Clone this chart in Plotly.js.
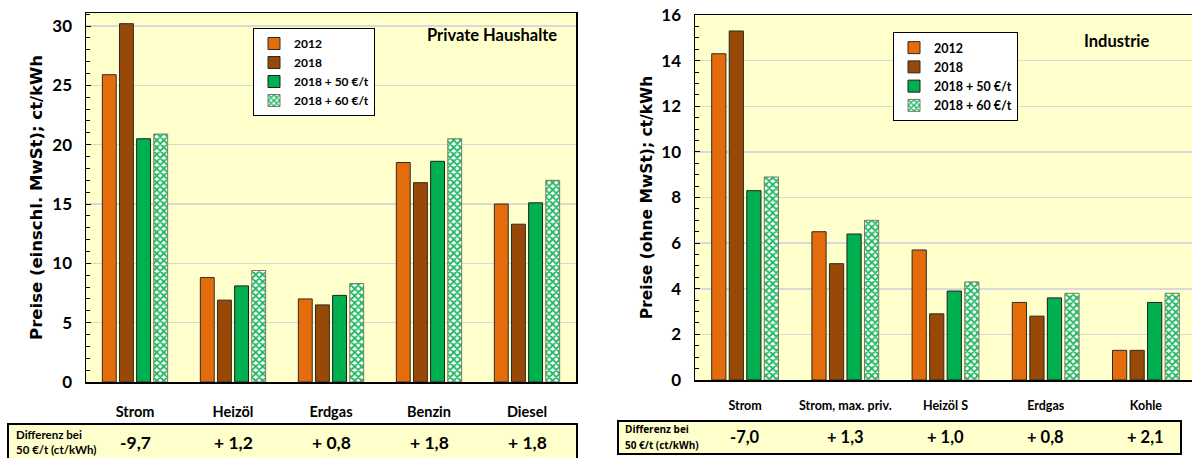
<!DOCTYPE html>
<html>
<head>
<meta charset="utf-8">
<script src="https://cdn.plot.ly/plotly-3.0.1.min.js"></script>
<style>
  html, body { margin: 0; padding: 0; background: #ffffff; }
  #chart { width: 1192px; height: 458px; }
</style>
</head>
<body>
<div id="chart"></div>
<script>
// Series shown in both panels
const seriesNames = ['2012', '2018', '2018 + 50 €/t', '2018 + 60 €/t'];

// Private Haushalte (Preise einschl. MwSt, ct/kWh)
const hhCategories = ['Strom', 'Heizöl', 'Erdgas', 'Benzin', 'Diesel'];
const hh2012 = [25.9, 8.8, 7.0, 18.5, 15.0];
const hh2018 = [30.2, 6.9, 6.5, 16.8, 13.3];
const hh50   = [20.5, 8.1, 7.3, 18.6, 15.1];
const hh60   = [20.9, 9.4, 8.3, 20.5, 17.0];

// Industrie (Preise ohne MwSt, ct/kWh)
const indCategories = ['Strom', 'Strom, max. priv.', 'Heizöl S', 'Erdgas', 'Kohle'];
const ind2012 = [14.3, 6.5, 5.7, 3.4, 1.3];
const ind2018 = [15.3, 5.1, 2.9, 2.8, 1.3];
const ind50   = [8.3, 6.4, 3.9, 3.6, 3.4];
const ind60   = [8.9, 7.0, 4.3, 3.8, 3.8];

const diffLabel = ['Differenz bei', '50 €/t (ct/kWh)'];

const W = 1192, H = 458;
const px = x => x / W;          // pixel column -> paper x
const py = y => 1 - y / H;      // pixel row -> paper y

const LATO = 'Lato, "Open Sans", sans-serif';
const SANS = '"Open Sans", Arial, sans-serif';
const WIDE = '"DejaVu Sans", Verdana, sans-serif';

const styles = [
  { color: '#E46C0A', line: '#2b2b2b' },
  { color: '#984807', line: '#2b2b2b' },
  { color: '#00B050', line: '#1f1f1f' },
  { color: '#00B050', line: '#7a7a6a', pattern: true }
];

function bars(cats, values, i, xa, ya, legendId, prefix) {
  const st = styles[i];
  const marker = { color: st.color, line: { color: st.line, width: 1 } };
  if (st.pattern) {
    marker.pattern = { shape: 'x', fgcolor: '#1fb862', bgcolor: '#ffffff', size: 5, solidity: 0.6 };
  }
  return {
    type: 'bar', x: cats, y: values, name: seriesNames[i],
    xaxis: xa, yaxis: ya, legend: legendId, legendgroup: prefix + i,
    marker: marker, hoverinfo: 'x+y+name'
  };
}

const hhSeries = [hh2012, hh2018, hh50, hh60];
const indSeries = [ind2012, ind2018, ind50, ind60];
const data = [];
hhSeries.forEach((v, i) => data.push(bars(hhCategories, v, i, 'x', 'y', 'legend', 'hh')));
indSeries.forEach((v, i) => data.push(bars(indCategories, v, i, 'x2', 'y2', 'legend2', 'ind')));

// German number format for the "Differenz" row: change 2018 -> 2018 + 50 €/t
function fmtDiff(d) {
  const s = Math.abs(d).toFixed(1).replace('.', ',');
  return d < 0 ? '-' + s : '+ ' + s;
}

function note(text, x, y, family, size, anchor, xref) {
  return {
    text: '<b>' + text + '</b>', xref: xref || 'paper', yref: 'paper', x: x, y: y,
    xanchor: anchor || 'center', yanchor: 'middle', showarrow: false,
    font: { family: family, size: size, color: '#000', weight: 'bold' }
  };
}

const annotations = [
  note('Private Haushalte', px(492), py(35), LATO, 16.5),
  note('Industrie', px(1116), py(41), LATO, 16.5),
  note(diffLabel[0], px(14), py(434), LATO, 11.5, 'left'),
  note(diffLabel[1], px(14), py(449), LATO, 11.5, 'left'),
  note(diffLabel[0], px(623), py(429), SANS, 10, 'left'),
  note(diffLabel[1], px(623), py(445), SANS, 10, 'left')
];

hhCategories.forEach((c, k) => annotations.push(
  note(fmtDiff(hh50[k] - hh2018[k]), c, py(442), LATO, 17.5, 'center', 'x')));
indCategories.forEach((c, k) => annotations.push(
  note(fmtDiff(ind50[k] - ind2018[k]), c, py(437), LATO, 16.5, 'center', 'x2')));

const shapes = [
  { type: 'rect', xref: 'paper', yref: 'paper', x0: px(8), x1: px(577), y0: py(460), y1: py(424),
    line: { color: '#000', width: 2 }, fillcolor: '#FFFFCC', layer: 'below' },
  { type: 'rect', xref: 'paper', yref: 'paper', x0: px(618), x1: px(1181), y0: py(454), y1: py(421),
    line: { color: '#000', width: 2 }, fillcolor: '#FFFFCC', layer: 'below' }
];

const yCommon = {
  showgrid: true, gridcolor: '#D9D9D9', gridwidth: 1.5, zeroline: false,
  showline: true, linecolor: '#000', linewidth: 1.5,
  ticks: 'inside', ticklen: 5, tickcolor: '#000', tickwidth: 1,
  tickfont: { family: LATO, size: 17, color: '#000', weight: 'bold' },
  fixedrange: true
};
const xCommon = {
  type: 'category', showgrid: false, zeroline: false,
  showline: true, linecolor: '#000', linewidth: 1.5, mirror: true, ticks: '',
  fixedrange: true
};

const layout = {
  width: W, height: H,
  margin: { l: 0, r: 0, t: 0, b: 0 },
  paper_bgcolor: '#ffffff',
  plot_bgcolor: '#FFFFCC',
  barmode: 'group', bargap: 0.3, bargroupgap: 0.19,
  showlegend: true,
  xaxis: Object.assign({}, xCommon, {
    domain: [px(86), px(576)], anchor: 'y', range: [-0.5, 4.5],
    tickfont: { family: LATO, size: 14.5, color: '#000', weight: 'bold' },
    ticklabelstandoff: 16
  }),
  yaxis: Object.assign({}, yCommon, {
    domain: [py(382), py(13)], anchor: 'x', range: [0, 31.1], dtick: 5, mirror: true,
    minor: { dtick: 1, ticks: 'inside', ticklen: 4, tickcolor: '#000', showgrid: false },
    ticklabelstandoff: 9,
    title: { text: 'Preise (einschl. MwSt); ct/kWh', standoff: 5,
      font: { family: WIDE, size: 16.5, color: '#000', weight: 'bold' } }
  }),
  xaxis2: Object.assign({}, xCommon, {
    domain: [px(695), 1], anchor: 'y2', range: [-0.5, 4.46],
    tickfont: { family: LATO, size: 12.5, color: '#000', weight: 'bold' },
    ticklabelstandoff: 13
  }),
  yaxis2: Object.assign({}, yCommon, {
    domain: [py(380), py(15)], anchor: 'x2', range: [0, 16], dtick: 2, mirror: false,
    minor: { dtick: 0.5, ticks: 'inside', ticklen: 4, tickcolor: '#000', showgrid: false },
    ticklabelstandoff: 9,
    title: { text: 'Preise (ohne MwSt); ct/kWh', standoff: 5,
      font: { family: WIDE, size: 15.5, color: '#000', weight: 'bold' } }
  }),
  legend: {
    x: px(253), y: py(28), xanchor: 'left', yanchor: 'top',
    bgcolor: '#ffffff', bordercolor: '#000', borderwidth: 1,
    font: { family: LATO, size: 12, color: '#000', weight: 'bold' },
    tracegroupgap: 4, itemwidth: 30, traceorder: 'normal'
  },
  legend2: {
    x: px(893), y: py(32), xanchor: 'left', yanchor: 'top',
    bgcolor: '#ffffff', bordercolor: '#000', borderwidth: 1,
    font: { family: LATO, size: 12.5, color: '#000', weight: 'bold' },
    tracegroupgap: 4, itemwidth: 30, traceorder: 'normal'
  },
  annotations: annotations,
  shapes: shapes
};

Plotly.newPlot('chart', data, layout, { displayModeBar: false, staticPlot: true });
</script>
</body>
</html>
